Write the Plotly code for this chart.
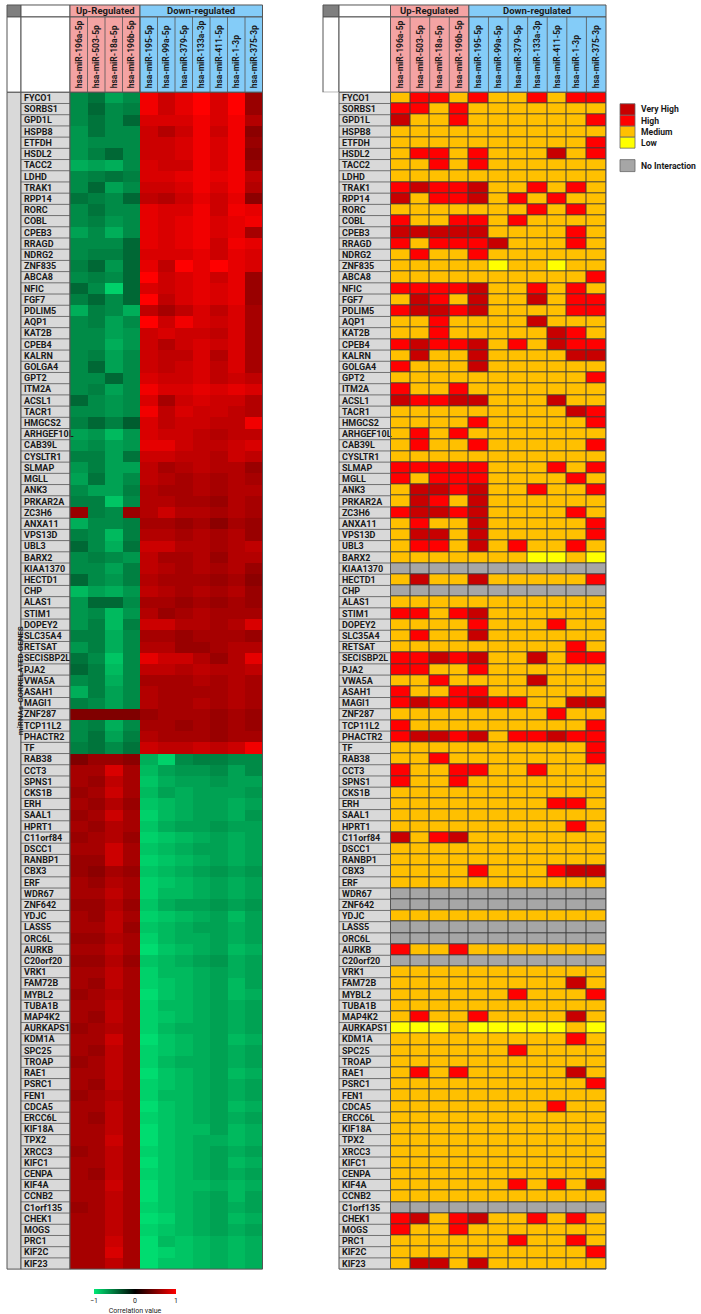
import plotly.graph_objects as go

W, H = 701, 1314

mirnas = ["hsa-miR-196a-5p", "hsa-miR-503-5p", "hsa-miR-18a-5p", "hsa-miR-196b-5p",
          "hsa-miR-195-5p", "hsa-miR-99a-5p", "hsa-miR-379-5p", "hsa-miR-133a-3p",
          "hsa-miR-411-5p", "hsa-miR-1-3p", "hsa-miR-375-3p"]
n_up = 4
group_labels = ["Up-Regulated", "Down-regulated"]

genes = ["FYCO1", "SORBS1", "GPD1L", "HSPB8", "ETFDH", "HSDL2", "TACC2", "LDHD", "TRAK1", "RPP14",
         "RORC", "COBL", "CPEB3", "RRAGD", "NDRG2", "ZNF835", "ABCA8", "NFIC", "FGF7", "PDLIM5",
         "AQP1", "KAT2B", "CPEB4", "KALRN", "GOLGA4", "GPT2", "ITM2A", "ACSL1", "TACR1", "HMGCS2",
         "ARHGEF10L", "CAB39L", "CYSLTR1", "SLMAP", "MGLL", "ANK3", "PRKAR2A", "ZC3H6", "ANXA11", "VPS13D",
         "UBL3", "BARX2", "KIAA1370", "HECTD1", "CHP", "ALAS1", "STIM1", "DOPEY2", "SLC35A4", "RETSAT",
         "SECISBP2L", "PJA2", "VWA5A", "ASAH1", "MAGI1", "ZNF287", "TCP11L2", "PHACTR2", "TF", "RAB38",
         "CCT3", "SPNS1", "CKS1B", "ERH", "SAAL1", "HPRT1", "C11orf84", "DSCC1", "RANBP1", "CBX3",
         "ERF", "WDR67", "ZNF642", "YDJC", "LASS5", "ORC6L", "AURKB", "C20orf20", "VRK1", "FAM72B",
         "MYBL2", "TUBA1B", "MAP4K2", "AURKAPS1", "KDM1A", "SPC25", "TROAP", "RAE1", "PSRC1", "FEN1",
         "CDCA5", "ERCC6L", "KIF18A", "TPX2", "XRCC3", "KIFC1", "CENPA", "KIF4A", "CCNB2", "C1orf135",
         "CHEK1", "MOGS", "PRC1", "KIF2C", "KIF23"]

# correlation values (left heatmap), one row per gene, one value per miRNA
corr = [
    [-0.6, -0.5, -0.7, -0.6, 0.95, 0.8, 0.9, 1.0, 0.85, 1.0, 0.6],
    [-0.6, -0.45, -0.6, -0.55, 0.95, 0.8, 0.9, 1.0, 0.85, 1.0, 0.6],
    [-0.6, -0.5, -0.6, -0.45, 0.85, 0.85, 0.85, 0.95, 0.85, 0.95, 0.7],
    [-0.65, -0.5, -0.6, -0.6, 0.8, 0.7, 0.8, 0.95, 0.8, 0.95, 0.55],
    [-0.65, -0.6, -0.6, -0.6, 0.8, 0.8, 0.85, 0.95, 0.85, 0.95, 0.6],
    [-0.65, -0.55, -0.45, -0.6, 0.8, 0.8, 0.85, 0.95, 0.85, 0.95, 0.55],
    [-0.75, -0.7, -0.75, -0.6, 0.85, 0.8, 0.8, 0.95, 0.85, 0.95, 0.6],
    [-0.6, -0.55, -0.5, -0.55, 0.85, 0.85, 0.9, 0.95, 0.9, 0.95, 0.75],
    [-0.6, -0.45, -0.7, -0.6, 0.8, 0.8, 0.85, 0.95, 0.85, 0.95, 0.7],
    [-0.5, -0.55, -0.6, -0.45, 0.75, 0.7, 0.8, 0.9, 0.8, 0.9, 0.55],
    [-0.6, -0.5, -0.6, -0.6, 0.9, 0.85, 0.85, 0.95, 0.8, 0.95, 0.9],
    [-0.6, -0.55, -0.65, -0.6, 0.9, 0.85, 0.9, 0.95, 0.85, 0.9, 0.95],
    [-0.7, -0.6, -0.75, -0.6, 0.9, 0.85, 0.9, 0.95, 0.85, 0.9, 0.65],
    [-0.6, -0.6, -0.6, -0.45, 0.9, 0.85, 0.9, 0.95, 0.8, 0.95, 0.9],
    [-0.6, -0.55, -0.55, -0.45, 0.85, 0.85, 0.85, 0.9, 0.8, 0.9, 0.85],
    [-0.55, -0.45, -0.65, -0.45, 0.9, 0.75, 1.0, 0.9, 1.0, 0.9, 0.85],
    [-0.6, -0.55, -0.6, -0.45, 1.0, 0.8, 0.85, 0.9, 0.8, 0.9, 0.6],
    [-0.45, -0.6, -0.9, -0.45, 0.85, 0.8, 0.85, 0.9, 0.85, 0.9, 0.6],
    [-0.55, -0.45, -0.6, -0.45, 1.0, 0.75, 0.85, 0.9, 0.85, 0.9, 0.6],
    [-0.75, -0.55, -0.6, -0.75, 0.75, 0.65, 0.75, 0.85, 0.75, 0.85, 0.65],
    [-0.6, -0.55, -0.7, -0.6, 1.0, 0.8, 0.95, 0.85, 0.8, 0.85, 0.65],
    [-0.6, -0.6, -0.7, -0.65, 0.8, 0.85, 0.8, 0.8, 0.75, 0.85, 0.65],
    [-0.6, -0.6, -0.75, -0.65, 0.8, 0.7, 0.8, 0.85, 0.8, 0.85, 0.65],
    [-0.6, -0.55, -0.7, -0.6, 0.8, 0.75, 0.75, 0.85, 0.7, 0.85, 0.65],
    [-0.6, -0.45, -0.7, -0.6, 0.8, 0.75, 0.8, 0.85, 0.75, 0.85, 0.65],
    [-0.6, -0.6, -0.45, -0.6, 0.85, 0.8, 0.8, 0.85, 0.75, 0.8, 0.75],
    [-0.6, -0.55, -0.7, -0.6, 0.95, 0.85, 0.85, 0.9, 0.85, 0.9, 0.85],
    [-0.45, -0.6, -0.65, -0.6, 0.85, 0.65, 0.8, 0.85, 0.8, 0.8, 0.7],
    [-0.6, -0.6, -0.65, -0.6, 0.95, 0.75, 0.85, 0.8, 0.8, 0.75, 0.7],
    [-0.55, -0.45, -0.55, -0.4, 0.85, 0.75, 0.8, 0.8, 0.75, 0.75, 0.95],
    [-0.7, -0.65, -0.8, -0.65, 0.85, 0.8, 0.8, 0.75, 0.7, 0.75, 0.75],
    [-0.65, -0.6, -0.7, -0.65, 0.9, 0.9, 0.8, 0.75, 0.75, 0.8, 0.85],
    [-0.55, -0.55, -0.7, -0.5, 0.8, 0.8, 0.75, 0.75, 0.7, 0.8, 0.75],
    [-0.65, -0.55, -0.7, -0.7, 0.75, 0.65, 0.7, 0.75, 0.7, 0.7, 0.6],
    [-0.7, -0.5, -0.7, -0.6, 0.75, 0.7, 0.65, 0.7, 0.65, 0.7, 0.65],
    [-0.6, -0.7, -0.7, -0.55, 0.7, 0.65, 0.65, 0.7, 0.65, 0.7, 0.7],
    [-0.55, -0.55, -0.85, -0.6, 0.7, 0.7, 0.65, 0.65, 0.6, 0.7, 0.65],
    [0.6, -0.55, -0.6, 0.6, 0.7, 0.8, 0.7, 0.7, 0.65, 0.7, 0.65],
    [-0.75, -0.6, -0.6, -0.55, 0.65, 0.65, 0.6, 0.65, 0.55, 0.65, 0.6],
    [-0.55, -0.6, -0.8, -0.55, 0.7, 0.7, 0.65, 0.7, 0.65, 0.7, 0.6],
    [-0.45, -0.6, -0.75, -0.5, 0.8, 0.8, 0.7, 0.7, 0.65, 0.7, 0.75],
    [-0.6, -0.55, -0.6, -0.65, 0.75, 0.65, 0.65, 0.7, 0.6, 0.7, 0.7],
    [-0.6, -0.6, -0.7, -0.55, 0.75, 0.7, 0.65, 0.7, 0.65, 0.7, 0.6],
    [-0.45, -0.6, -0.65, -0.55, 0.7, 0.65, 0.65, 0.65, 0.6, 0.65, 0.55],
    [-0.8, -0.7, -0.75, -0.65, 0.75, 0.7, 0.65, 0.7, 0.65, 0.7, 0.6],
    [-0.65, -0.45, -0.45, -0.6, 0.65, 0.65, 0.6, 0.65, 0.6, 0.65, 0.6],
    [-0.65, -0.6, -0.8, -0.65, 0.7, 0.6, 0.65, 0.7, 0.65, 0.65, 0.65],
    [-0.65, -0.55, -0.8, -0.55, 0.8, 0.8, 0.7, 0.7, 0.65, 0.7, 0.85],
    [-0.55, -0.55, -0.75, -0.6, 0.65, 0.65, 0.6, 0.65, 0.65, 0.65, 0.6],
    [-0.65, -0.55, -0.75, -0.6, 0.7, 0.7, 0.6, 0.6, 0.65, 0.7, 0.7],
    [-0.5, -0.6, -0.85, -0.6, 0.9, 0.8, 0.8, 0.7, 0.6, 0.7, 0.9],
    [-0.45, -0.55, -0.8, -0.6, 0.75, 0.75, 0.7, 0.75, 0.7, 0.7, 0.75],
    [-0.6, -0.55, -0.75, -0.6, 0.65, 0.65, 0.65, 0.7, 0.65, 0.7, 0.65],
    [-0.75, -0.55, -0.7, -0.6, 0.7, 0.65, 0.65, 0.65, 0.65, 0.7, 0.65],
    [-0.55, -0.6, -0.7, -0.6, 0.7, 0.65, 0.65, 0.7, 0.65, 0.7, 0.65],
    [0.5, 0.5, 0.5, 0.5, 0.6, 0.65, 0.65, 0.65, 0.6, 0.65, 0.6],
    [-0.6, -0.55, -0.75, -0.6, 0.65, 0.65, 0.6, 0.65, 0.6, 0.65, 0.6],
    [-0.6, -0.5, -0.7, -0.55, 0.7, 0.65, 0.65, 0.65, 0.6, 0.65, 0.65],
    [-0.55, -0.5, -0.6, -0.5, 0.8, 0.75, 0.75, 0.8, 0.75, 0.8, 0.95],
    [0.5, 0.6, 0.6, 0.55, -0.75, -0.9, -0.6, -0.55, -0.55, -0.6, -0.6],
    [0.65, 0.65, 0.85, 0.65, -0.8, -0.7, -0.65, -0.65, -0.6, -0.7, -0.6],
    [0.65, 0.6, 0.75, 0.65, -0.85, -0.75, -0.7, -0.7, -0.65, -0.7, -0.7],
    [0.6, 0.65, 0.8, 0.65, -0.8, -0.7, -0.75, -0.7, -0.7, -0.7, -0.65],
    [0.65, 0.6, 0.7, 0.6, -0.85, -0.8, -0.75, -0.7, -0.7, -0.75, -0.7],
    [0.6, 0.65, 0.8, 0.65, -0.9, -0.8, -0.75, -0.7, -0.7, -0.75, -0.65],
    [0.65, 0.6, 0.7, 0.65, -0.85, -0.75, -0.7, -0.7, -0.65, -0.7, -0.7],
    [0.6, 0.65, 0.7, 0.6, -0.9, -0.85, -0.8, -0.75, -0.7, -0.75, -0.7],
    [0.65, 0.65, 0.8, 0.65, -0.85, -0.8, -0.75, -0.7, -0.7, -0.75, -0.7],
    [0.6, 0.6, 0.8, 0.65, -0.9, -0.85, -0.8, -0.75, -0.7, -0.75, -0.7],
    [0.6, 0.55, 0.65, 0.6, -0.85, -0.8, -0.75, -0.7, -0.65, -0.7, -0.65],
    [0.65, 0.6, 0.7, 0.65, -0.9, -0.85, -0.8, -0.75, -0.7, -0.75, -0.7],
    [0.65, 0.65, 0.75, 0.65, -0.9, -0.8, -0.8, -0.75, -0.7, -0.75, -0.7],
    [0.6, 0.6, 0.7, 0.6, -0.85, -0.75, -0.7, -0.7, -0.65, -0.7, -0.65],
    [0.65, 0.6, 0.75, 0.65, -0.9, -0.85, -0.8, -0.75, -0.7, -0.8, -0.7],
    [0.65, 0.65, 0.75, 0.6, -0.85, -0.8, -0.75, -0.7, -0.7, -0.75, -0.7],
    [0.6, 0.6, 0.7, 0.65, -0.9, -0.8, -0.75, -0.75, -0.7, -0.75, -0.7],
    [0.65, 0.65, 0.75, 0.65, -0.95, -0.85, -0.8, -0.75, -0.7, -0.8, -0.75],
    [0.6, 0.6, 0.7, 0.6, -0.85, -0.8, -0.75, -0.7, -0.65, -0.75, -0.7],
    [0.65, 0.65, 0.75, 0.65, -0.9, -0.8, -0.8, -0.75, -0.7, -0.75, -0.7],
    [0.65, 0.6, 0.75, 0.65, -0.9, -0.85, -0.8, -0.75, -0.7, -0.8, -0.7],
    [0.6, 0.65, 0.7, 0.65, -0.95, -0.85, -0.8, -0.75, -0.7, -0.8, -0.75],
    [0.65, 0.65, 0.75, 0.65, -0.9, -0.8, -0.8, -0.75, -0.7, -0.75, -0.7],
    [0.65, 0.6, 0.75, 0.65, -0.9, -0.85, -0.8, -0.75, -0.7, -0.75, -0.7],
    [0.6, 0.65, 0.7, 0.65, -0.9, -0.8, -0.75, -0.75, -0.7, -0.75, -0.7],
    [0.65, 0.65, 0.8, 0.65, -0.95, -0.85, -0.8, -0.75, -0.7, -0.8, -0.75],
    [0.65, 0.6, 0.75, 0.65, -0.9, -0.85, -0.8, -0.75, -0.7, -0.75, -0.7],
    [0.6, 0.65, 0.75, 0.65, -0.9, -0.8, -0.75, -0.75, -0.7, -0.75, -0.7],
    [0.65, 0.65, 0.75, 0.65, -0.95, -0.85, -0.8, -0.75, -0.7, -0.8, -0.75],
    [0.65, 0.6, 0.75, 0.65, -0.9, -0.85, -0.8, -0.75, -0.7, -0.75, -0.7],
    [0.6, 0.65, 0.7, 0.65, -0.9, -0.8, -0.8, -0.75, -0.7, -0.75, -0.7],
    [0.65, 0.65, 0.75, 0.65, -0.95, -0.85, -0.8, -0.75, -0.7, -0.8, -0.75],
    [0.65, 0.6, 0.75, 0.65, -0.9, -0.85, -0.8, -0.75, -0.7, -0.75, -0.7],
    [0.65, 0.65, 0.75, 0.65, -0.95, -0.85, -0.8, -0.8, -0.7, -0.8, -0.75],
    [0.65, 0.65, 0.8, 0.65, -0.95, -0.85, -0.8, -0.75, -0.75, -0.8, -0.75],
    [0.6, 0.65, 0.75, 0.65, -0.9, -0.85, -0.8, -0.75, -0.7, -0.75, -0.7],
    [0.65, 0.65, 0.75, 0.65, -0.95, -0.85, -0.8, -0.75, -0.7, -0.8, -0.75],
    [0.65, 0.6, 0.75, 0.65, -0.9, -0.85, -0.8, -0.75, -0.7, -0.75, -0.7],
    [0.65, 0.65, 0.8, 0.65, -0.95, -0.85, -0.8, -0.8, -0.75, -0.8, -0.75],
    [0.65, 0.65, 0.75, 0.65, -0.95, -0.85, -0.8, -0.75, -0.7, -0.8, -0.7],
    [0.6, 0.65, 0.75, 0.65, -0.9, -0.85, -0.8, -0.75, -0.7, -0.75, -0.7],
    [0.65, 0.65, 0.75, 0.65, -0.95, -0.9, -0.8, -0.75, -0.7, -0.8, -0.75],
    [0.65, 0.65, 0.75, 0.65, -0.9, -0.85, -0.8, -0.75, -0.7, -0.75, -0.7],
    [0.65, 0.65, 0.8, 0.65, -0.95, -0.8, -0.85, -0.8, -0.75, -0.8, -0.75],
    [0.65, 0.65, 0.85, 0.65, -0.95, -0.9, -0.85, -0.8, -0.75, -0.8, -0.75],
    [0.65, 0.65, 0.75, 0.65, -0.95, -0.85, -0.85, -0.8, -0.75, -0.8, -0.75],
]

# interaction level (right heatmap): 0 none, 1 low, 2 medium, 3 high, 4 very high
inter = [
    [2, 3, 3, 2, 3, 2, 2, 3, 2, 3, 3], [3, 3, 2, 3, 2, 2, 2, 2, 2, 2, 2], [4, 2, 2, 3, 2, 2, 2, 2, 2, 2, 3],
    [2, 2, 2, 2, 2, 2, 2, 2, 2, 2, 2], [2, 2, 2, 2, 2, 2, 2, 2, 2, 2, 3], [2, 3, 3, 2, 3, 2, 2, 2, 4, 2, 3],
    [2, 2, 3, 2, 3, 2, 2, 2, 2, 2, 2], [2, 2, 2, 2, 2, 2, 2, 2, 2, 2, 2], [3, 4, 3, 3, 4, 2, 2, 3, 2, 3, 2],
    [4, 2, 3, 3, 4, 2, 3, 2, 3, 2, 2], [2, 2, 2, 2, 2, 2, 2, 3, 2, 3, 2], [3, 2, 2, 3, 3, 2, 3, 2, 2, 2, 2],
    [4, 4, 4, 4, 4, 2, 2, 2, 2, 3, 2], [3, 2, 3, 3, 3, 4, 2, 2, 2, 3, 2], [2, 3, 2, 2, 3, 2, 2, 2, 2, 2, 2],
    [2, 2, 2, 2, 2, 1, 2, 2, 1, 2, 2], [2, 2, 2, 2, 2, 2, 2, 2, 2, 2, 3], [3, 3, 3, 3, 4, 2, 2, 3, 2, 3, 2],
    [2, 4, 3, 2, 4, 2, 2, 4, 2, 3, 3], [3, 4, 4, 3, 4, 2, 2, 2, 2, 3, 3], [2, 2, 3, 2, 2, 2, 2, 4, 2, 2, 2],
    [2, 2, 3, 2, 2, 2, 2, 2, 4, 3, 2], [3, 4, 3, 3, 4, 2, 3, 2, 4, 3, 3], [2, 4, 2, 2, 4, 2, 2, 2, 2, 4, 4],
    [3, 2, 2, 2, 4, 2, 2, 2, 2, 2, 2], [2, 2, 2, 2, 2, 2, 2, 2, 2, 2, 3], [3, 2, 2, 3, 2, 2, 2, 2, 2, 2, 2],
    [4, 3, 3, 4, 4, 2, 2, 2, 4, 2, 2], [2, 2, 2, 2, 2, 2, 2, 2, 2, 4, 3], [2, 2, 2, 2, 3, 2, 2, 2, 2, 2, 3],
    [2, 3, 2, 3, 2, 2, 2, 2, 2, 2, 2], [2, 3, 2, 2, 3, 2, 2, 2, 2, 2, 3], [2, 2, 2, 2, 2, 2, 2, 2, 2, 2, 2],
    [3, 3, 3, 3, 3, 2, 2, 2, 3, 2, 3], [3, 2, 3, 3, 3, 2, 2, 2, 2, 3, 2], [2, 4, 4, 3, 4, 2, 2, 3, 2, 2, 3],
    [2, 4, 3, 2, 4, 2, 2, 2, 2, 2, 2], [3, 4, 4, 3, 4, 2, 2, 2, 2, 3, 2], [2, 3, 2, 2, 4, 2, 2, 2, 2, 2, 3],
    [2, 4, 4, 2, 4, 2, 2, 2, 2, 2, 3], [2, 3, 3, 2, 4, 2, 3, 2, 2, 3, 2], [2, 2, 2, 2, 2, 2, 2, 1, 1, 2, 1],
    [0, 0, 0, 0, 0, 0, 0, 0, 0, 0, 0], [2, 4, 2, 2, 4, 2, 2, 2, 2, 2, 3], [0, 0, 0, 0, 0, 0, 0, 0, 0, 0, 0],
    [2, 2, 2, 2, 2, 2, 2, 2, 2, 2, 2], [3, 3, 2, 3, 4, 2, 2, 2, 2, 2, 2], [2, 2, 2, 2, 3, 2, 2, 2, 3, 2, 2],
    [2, 3, 2, 2, 4, 2, 2, 2, 2, 2, 2], [2, 2, 2, 2, 2, 2, 2, 2, 2, 3, 2], [3, 3, 4, 3, 4, 2, 2, 4, 2, 3, 3],
    [3, 3, 2, 2, 3, 2, 2, 2, 2, 2, 2], [2, 2, 3, 2, 2, 2, 2, 4, 2, 2, 2], [3, 2, 2, 3, 3, 2, 2, 2, 2, 2, 2],
    [3, 4, 3, 3, 4, 3, 3, 2, 2, 4, 4], [2, 2, 2, 2, 2, 2, 2, 2, 3, 2, 2], [3, 2, 2, 2, 2, 2, 2, 2, 2, 2, 3],
    [3, 4, 4, 3, 4, 2, 3, 3, 4, 3, 3], [2, 2, 2, 2, 2, 2, 2, 2, 2, 2, 3], [2, 2, 3, 2, 2, 2, 2, 2, 2, 2, 3],
    [3, 2, 2, 3, 3, 2, 2, 3, 2, 2, 2], [3, 2, 2, 3, 2, 2, 2, 2, 2, 2, 2], [2, 2, 2, 2, 2, 2, 2, 2, 2, 2, 2],
    [2, 2, 2, 2, 2, 2, 2, 2, 3, 3, 2], [2, 2, 2, 2, 2, 2, 2, 2, 2, 2, 2], [2, 2, 2, 2, 2, 2, 2, 2, 2, 3, 2],
    [4, 2, 3, 4, 2, 2, 2, 2, 2, 2, 2], [2, 2, 2, 2, 2, 2, 2, 2, 2, 2, 2], [2, 2, 2, 2, 2, 2, 2, 2, 2, 2, 2],
    [2, 2, 2, 2, 3, 2, 2, 2, 3, 4, 4], [2, 2, 2, 2, 2, 2, 2, 2, 2, 2, 2], [0, 0, 0, 0, 0, 0, 0, 0, 0, 0, 0],
    [0, 0, 0, 0, 0, 0, 0, 0, 0, 0, 0], [2, 2, 2, 2, 2, 2, 2, 2, 2, 2, 2], [0, 0, 0, 0, 0, 0, 0, 0, 0, 0, 0],
    [0, 0, 0, 0, 0, 0, 0, 0, 0, 0, 0], [3, 2, 2, 3, 2, 2, 2, 2, 2, 2, 2], [0, 0, 0, 0, 0, 0, 0, 0, 0, 0, 0],
    [2, 2, 2, 2, 2, 2, 2, 2, 2, 2, 2], [2, 2, 2, 2, 2, 2, 2, 2, 2, 4, 2], [2, 2, 2, 2, 2, 2, 3, 2, 2, 2, 3],
    [2, 2, 2, 2, 2, 2, 2, 2, 2, 2, 2], [2, 3, 2, 2, 3, 2, 2, 2, 2, 4, 2], [1, 1, 1, 2, 1, 1, 1, 1, 1, 2, 1],
    [2, 2, 2, 2, 2, 2, 2, 2, 2, 3, 2], [2, 2, 2, 2, 2, 2, 3, 2, 2, 2, 2], [2, 2, 2, 2, 2, 2, 2, 2, 2, 2, 2],
    [2, 3, 2, 3, 2, 2, 2, 2, 2, 4, 2], [2, 2, 2, 2, 2, 2, 2, 2, 2, 2, 3], [2, 2, 2, 2, 2, 2, 2, 2, 2, 2, 2],
    [2, 2, 2, 2, 2, 2, 2, 2, 3, 2, 2], [2, 2, 2, 2, 2, 2, 2, 2, 2, 2, 2], [2, 2, 2, 2, 2, 2, 2, 2, 2, 2, 2],
    [2, 2, 2, 2, 2, 2, 2, 2, 2, 2, 2], [2, 2, 2, 2, 2, 2, 2, 2, 2, 2, 2], [2, 2, 2, 2, 2, 2, 2, 2, 2, 2, 2],
    [2, 2, 2, 2, 2, 2, 2, 2, 2, 2, 2], [2, 2, 2, 2, 2, 2, 3, 2, 3, 2, 4], [2, 2, 2, 2, 2, 2, 2, 2, 2, 2, 2],
    [0, 0, 0, 0, 0, 0, 0, 0, 0, 0, 0], [3, 4, 2, 3, 4, 2, 2, 3, 2, 3, 2], [3, 2, 2, 3, 2, 2, 2, 2, 2, 2, 2],
    [2, 2, 2, 2, 2, 2, 3, 2, 2, 3, 2], [2, 2, 2, 2, 2, 2, 2, 2, 2, 2, 3], [2, 4, 4, 2, 4, 2, 2, 2, 2, 2, 2],
]

level_names = ["No Interaction", "Low", "Medium", "High", "Very High"]
level_colors = ["#a6a6a6", "#ffff00", "#ffc000", "#ff0000", "#c80000"]

# ---------------- geometry (pixels) ----------------
def px(x):
    return x / W

def py(y):
    return 1 - y / H

ROW_TOP, ROW_BOT = 92.5, 1272
HEAD_TOP, HEAD_MID = 5, 17
LEFT = dict(strip=(7, 21), lab=(21, 70), cells=(70, 262.5))
RIGHT = dict(strip=(323, 339), lab=(339, 390.5), cells=(390.5, 606))

PINK = "#f4a3a3"
BLUE = "#84ccf8"
LINE = "#555555"
LABEL_BG = "#d9d9d9"
FONT = "Roboto, Liberation Sans, sans-serif"
TXT = "#1a1a1a"

ncol = len(mirnas)
nrow = len(genes)

corr_scale = [[0.0, "rgb(0,232,118)"], [0.5, "rgb(0,0,0)"], [1.0, "rgb(255,0,0)"]]
lv = len(level_colors)
disc_scale = []
for i, c in enumerate(level_colors):
    disc_scale.append([i / lv, c])
    disc_scale.append([(i + 1) / lv, c])

fig = go.Figure()
fig.add_trace(go.Heatmap(
    z=corr, x=mirnas, y=genes, xaxis="x", yaxis="y",
    colorscale=corr_scale, zmin=-1, zmax=1,
    colorbar=dict(orientation="h", x=px(135), xanchor="center", y=py(1291.5), yanchor="top",
                  lenmode="pixels", len=82, thickness=5, outlinewidth=0, xpad=0, ypad=0,
                  tickvals=[-1, 0, 1], ticks="", tickfont=dict(size=7, family=FONT, color=TXT),
                  title=dict(text="Correlation value", side="bottom",
                             font=dict(size=7, family=FONT, color=TXT))),
))
fig.add_trace(go.Heatmap(
    z=inter, x=mirnas, y=genes, xaxis="x2", yaxis="y2",
    colorscale=disc_scale, zmin=-0.5, zmax=lv - 0.5, showscale=False,
    xgap=1, ygap=1,
    customdata=[[level_names[v] for v in r] for r in inter],
    hovertemplate="%{y} / %{x}: %{customdata}<extra></extra>",
))

tickfont_rows = dict(size=9, family=FONT, color=TXT, weight="bold")
tickfont_cols = dict(size=8.5, family=FONT, color=TXT, weight="bold")

def xaxis_cfg(geom, anchor):
    return dict(domain=[px(geom["cells"][0]), px(geom["cells"][1])], anchor=anchor, side="top",
                tickangle=-90, tickfont=tickfont_cols, ticks="", showgrid=False, zeroline=False,
                showline=False, fixedrange=True, ticklabelstandoff=3)

def yaxis_cfg(geom):
    return dict(domain=[py(ROW_BOT), py(ROW_TOP)], anchor="free", position=px(geom["lab"][0]),
                side="right", autorange="reversed", tickfont=tickfont_rows, ticks="",
                showgrid=False, zeroline=False, showline=False, fixedrange=True,
                ticklabelstandoff=2)

fig.update_layout(
    width=W, height=H, autosize=False,
    margin=dict(l=0, r=0, t=0, b=0),
    paper_bgcolor="white", plot_bgcolor="#3c3c3c",
    xaxis=xaxis_cfg(LEFT, "y"), yaxis=yaxis_cfg(LEFT),
    xaxis2=xaxis_cfg(RIGHT, "y2"), yaxis2=yaxis_cfg(RIGHT),
    showlegend=False,
)

shapes = []
annotations = []

def rect(x0, x1, y0, y1, fill, xref="paper", lw=1, lc=LINE, layer="below"):
    shapes.append(dict(type="rect", xref=xref, yref="paper", x0=x0, x1=x1, y0=py(y0), y1=py(y1),
                       fillcolor=fill, line=dict(color=lc, width=lw), layer=layer))

for geom, xa, ya, with_strip in ((LEFT, "x", "y", True), (RIGHT, "x2", "y2", False)):
    s0, s1 = geom["strip"]
    l0, l1 = geom["lab"]
    # top row
    rect(px(s0), px(s1), HEAD_TOP, HEAD_MID, "#7f7f7f")
    rect(px(l0), px(l1), HEAD_TOP, HEAD_MID, "white")
    frac = n_up / ncol
    rect(0, frac, HEAD_TOP, HEAD_MID, PINK, xref=xa + " domain")
    rect(frac, 1, HEAD_TOP, HEAD_MID, BLUE, xref=xa + " domain")
    for (a, b), txt in zip(((0, frac), (frac, 1)), group_labels):
        annotations.append(dict(xref=xa + " domain", yref="paper", x=(a + b) / 2, y=py((HEAD_TOP + HEAD_MID) / 2),
                                text=txt, showarrow=False, xanchor="center", yanchor="middle",
                                font=dict(size=9.5, family=FONT, color=TXT, weight="bold")))
    # column header row
    rect(px(s0), px(s1), HEAD_MID, ROW_TOP, "white")
    rect(px(l0), px(l1), HEAD_MID, ROW_TOP, "white")
    rect(0, frac, HEAD_MID, ROW_TOP, PINK, xref=xa + " domain")
    rect(frac, 1, HEAD_MID, ROW_TOP, BLUE, xref=xa + " domain")
    for i in range(1, ncol):
        shapes.append(dict(type="line", xref=xa + " domain", yref="paper", x0=i / ncol, x1=i / ncol,
                           y0=py(HEAD_MID), y1=py(ROW_TOP), line=dict(color=LINE, width=0.8), layer="below"))
    # label column
    rect(px(s0), px(s1), ROW_TOP, ROW_BOT, LABEL_BG if with_strip else "white",
         lc=LINE if with_strip else "rgba(0,0,0,0)")
    rect(px(l0), px(l1), ROW_TOP, ROW_BOT, LABEL_BG)
    path = "".join(f"M{px(l0)},{i + 0.5} L{px(l1)},{i + 0.5} " for i in range(nrow - 1))
    shapes.append(dict(type="path", xref="paper", yref=ya, path=path,
                       line=dict(color=LINE, width=0.8), layer="below"))
    # frame round the cells
    shapes.append(dict(type="rect", xref=xa + " domain", yref=ya + " domain", x0=0, x1=1, y0=0, y1=1,
                       line=dict(color=LINE, width=1), layer="above"))

annotations.append(dict(xref="paper", yref="paper", x=px(14), y=py((ROW_TOP + ROW_BOT) / 2),
                        text="miRNAs-CORRELATED GENES", textangle=-90, showarrow=False,
                        font=dict(size=8, family=FONT, color=TXT, weight="bold")))

# legend for interaction levels
leg_x0, leg_x1 = 620, 635
leg_rows = [("Very High", 104, 115.5), ("High", 115.5, 126.5), ("Medium", 126.5, 137.5),
            ("Low", 137.5, 148.5), ("No Interaction", 160, 172)]
col_of = dict(zip(level_names, level_colors))
for name, y0, y1 in leg_rows:
    rect(px(leg_x0), px(leg_x1), y0, y1, col_of[name], lc="#666666", lw=0.8, layer="above")
    annotations.append(dict(xref="paper", yref="paper", x=px(639), y=py((y0 + y1) / 2), text=name,
                            showarrow=False, xanchor="left", yanchor="middle",
                            font=dict(size=8.6, family=FONT, color=TXT, weight="bold")))

fig.update_layout(shapes=shapes, annotations=annotations)
fig.write_html("out.html",
               config={"displayModeBar": False},
               post_script="document.body.style.margin='0px';"
                           "document.documentElement.style.overflow='hidden';")
